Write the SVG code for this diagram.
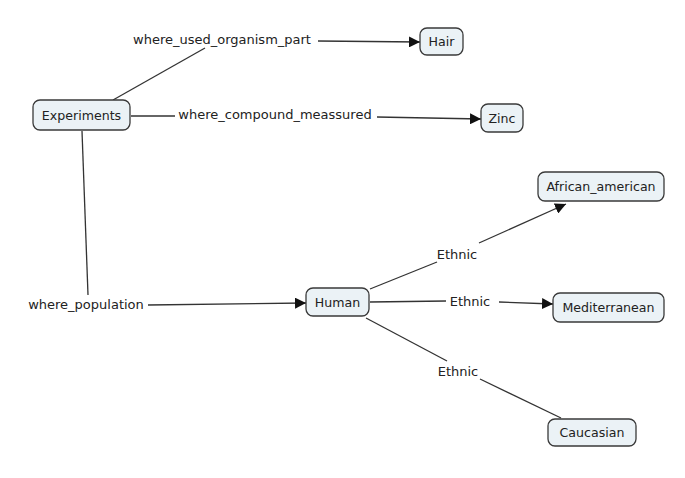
<svg xmlns="http://www.w3.org/2000/svg" width="685" height="478" viewBox="0 0 685 478">
<style>
.node rect{fill:#ebf2f6;stroke:#3a3a3a;stroke-width:1.3}
text{font-family:"DejaVu Sans",sans-serif;font-size:13px;fill:#222;text-anchor:middle}
.node text{font-size:12.6px}
.c line{stroke:#333;stroke-width:1.3}
</style>
<defs>
<marker id="ah" viewBox="0 0 10 10" refX="10" refY="5" markerWidth="11" markerHeight="11" markerUnits="userSpaceOnUse" orient="auto">
<path d="M0,0 L10,5 L0,10 z" fill="#111"/>
</marker>
</defs>
<rect width="685" height="478" fill="#fff"/>
<g class="c" id="connectors">
<line x1="113" y1="100" x2="205" y2="48"/>
<line x1="318" y1="41" x2="420" y2="42" marker-end="url(#ah)"/>
<line x1="131" y1="116" x2="175" y2="116"/>
<line x1="377" y1="117" x2="481" y2="119" marker-end="url(#ah)"/>
<line x1="82" y1="131" x2="88" y2="295"/>
<line x1="148" y1="305" x2="306" y2="303" marker-end="url(#ah)"/>
<line x1="370" y1="289" x2="437" y2="262"/>
<line x1="479" y1="243" x2="566" y2="204" marker-end="url(#ah)"/>
<line x1="370" y1="302" x2="446" y2="301"/>
<line x1="499" y1="302" x2="553" y2="304" marker-end="url(#ah)"/>
<line x1="366" y1="318" x2="447" y2="361"/>
<line x1="480" y1="379" x2="561" y2="418"/>
<text x="222" y="44">where_used_organism_part</text>
<text x="275" y="119">where_compound_meassured</text>
<text x="86" y="309">where_population</text>
<text x="457" y="259">Ethnic</text>
<text x="470" y="306">Ethnic</text>
<text x="458" y="376">Ethnic</text>
</g>
<g class="node" id="Experiments"><rect x="33" y="100" width="97" height="30" rx="7"/><text x="81.5" y="119.5">Experiments</text></g>
<g class="node" id="Hair"><rect x="420" y="28" width="43" height="27" rx="7"/><text x="441.5" y="46">Hair</text></g>
<g class="node" id="Zinc"><rect x="481" y="104" width="42" height="28" rx="7"/><text x="502" y="122.5">Zinc</text></g>
<g class="node" id="Human"><rect x="306" y="288" width="63" height="28" rx="7"/><text x="337.5" y="306.5">Human</text></g>
<g class="node" id="African_american"><rect x="538" y="172" width="126" height="29" rx="7"/><text x="601" y="191">African_american</text></g>
<g class="node" id="Mediterranean"><rect x="553" y="293" width="111" height="29" rx="7"/><text x="608.5" y="312">Mediterranean</text></g>
<g class="node" id="Caucasian"><rect x="548" y="419" width="88" height="27" rx="7"/><text x="592" y="437">Caucasian</text></g>
</svg>
